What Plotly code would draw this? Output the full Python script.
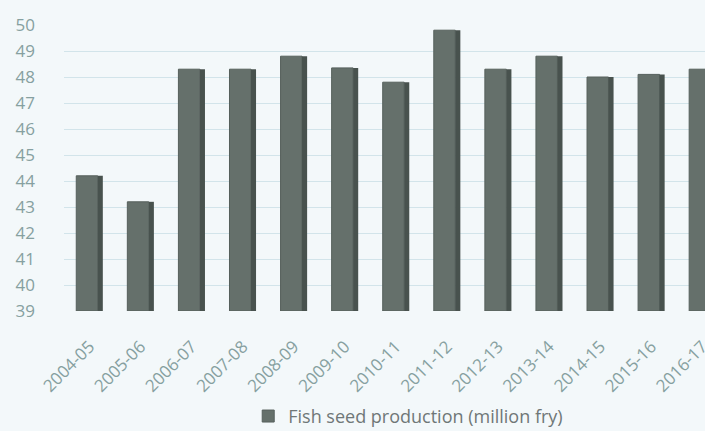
import plotly.graph_objects as go

seasons = ["2004-05", "2005-06", "2006-07", "2007-08", "2008-09", "2009-10",
           "2010-11", "2011-12", "2012-13", "2013-14", "2014-15", "2015-16", "2016-17"]
production = [44.2, 43.2, 48.3, 48.3, 48.8, 48.35, 47.8, 49.8, 48.3, 48.8, 48.0, 48.1, 48.3]
y_ticks = list(range(39, 51))

fig = go.Figure()
# front face
fig.add_trace(go.Bar(
    x=list(range(len(seasons))), y=[v - 39 for v in production], base=39,
    name="Fish seed production (million fry)",
    marker=dict(color="#65706b", line=dict(color="#56605c", width=1)),
    width=0.42, offset=-0.26,
))
# side face for 3D look
fig.add_trace(go.Bar(
    x=list(range(len(seasons))), y=[v - 39 for v in production], base=39,
    showlegend=False, hoverinfo="skip",
    marker=dict(color="#48524e", line=dict(width=0)),
    width=0.1, offset=0.16,
))

fig.update_layout(
    width=705, height=431,
    margin=dict(l=64, r=0, t=25, b=120, autoexpand=False),
    paper_bgcolor="#f3f8fa", plot_bgcolor="#f3f8fa",
    barmode="overlay",
    font=dict(family="Open Sans", size=14, color="#86a0a0"),
    showlegend=True,
    legend=dict(orientation="h", x=0.537, xanchor="center",
                yref="container", y=0.034, yanchor="middle",
                font=dict(size=18, color="#6f7777"), bgcolor="rgba(0,0,0,0)",
                itemwidth=30),
)
fig.update_xaxes(
    range=[-0.5, 12.05], automargin=False,
    tickmode="array", tickvals=list(range(len(seasons))), ticktext=seasons,
    tickangle=-45, showgrid=False, zeroline=False, showline=False,
    tickfont=dict(size=17, color="#86a0a0"), ticklabeloverflow="allow",
    ticks="outside", ticklen=18, tickcolor="rgba(0,0,0,0)",
)
fig.update_yaxes(
    range=[39, 50], tickvals=y_ticks, automargin=False,
    showgrid=True, gridcolor="#d2e4ea", gridwidth=1, zeroline=False, showline=False,
    tickfont=dict(size=17, color="#86a0a0"), ticklabelstandoff=28,
)

fig.write_html("out.html")
